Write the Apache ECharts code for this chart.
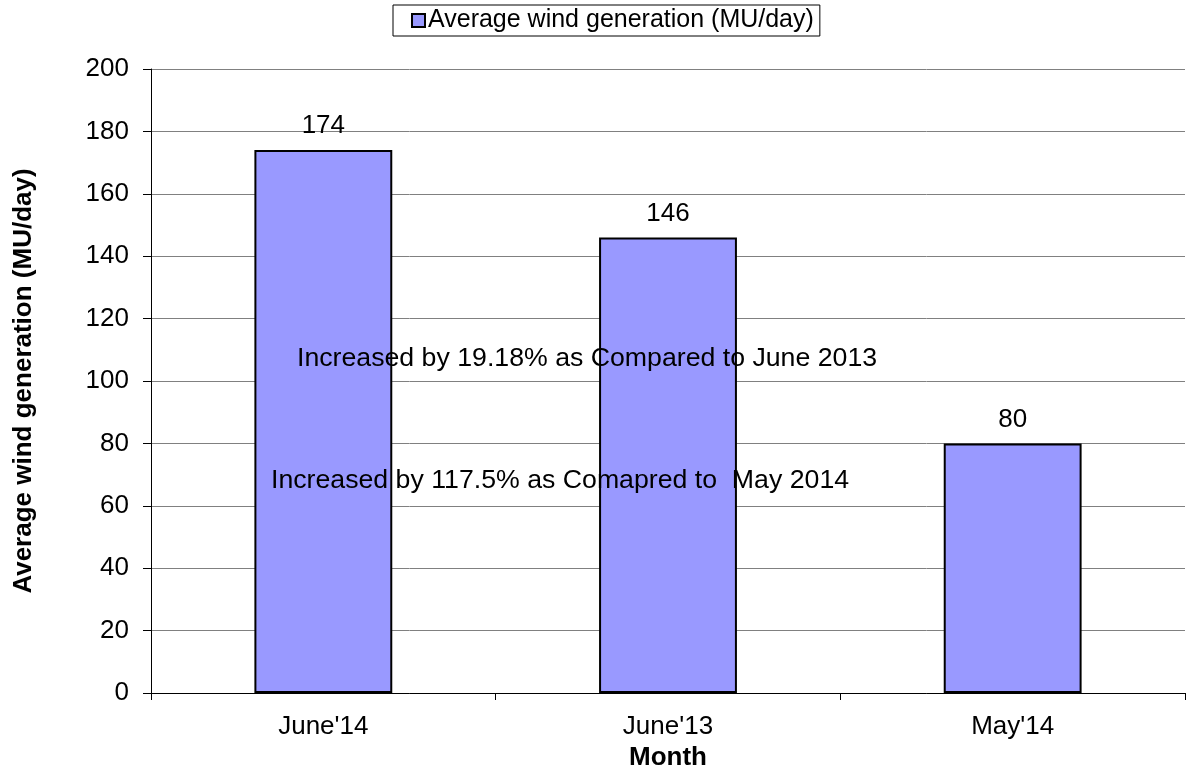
<!DOCTYPE html>
<html>
<head>
<meta charset="utf-8">
<script src="https://cdn.jsdelivr.net/npm/echarts@6/dist/echarts.min.js"></script>
<style>
    html, body { margin: 0; padding: 0; background: #fff; }
    #chart { width: 1188px; height: 771px; }
</style>
</head>
<body>
<div id="chart"></div>
<script>
    // data
    const months = ["June'14", "June'13", "May'14"];
    const windGen = [174, 146, 80];
    const seriesName = 'Average wind generation (MU/day)';
    const notes = [
        'Increased by 19.18% as Compared to June 2013',
        'Increased by 117.5% as Comapred to  May 2014'
    ];

    const font = 'Liberation Sans, Arial, sans-serif';
    let myChart = echarts.init(document.getElementById('chart'));
    let option = {
        animation: false,
        textStyle: {fontFamily: font},
        grid: {left: 151, right: 3, top: 69, bottom: 78, outerBoundsMode: 'none', containLabel: false},
        legend: {
            data: [seriesName],
            icon: 'rect',
            top: 5,
            left: 393,
            itemWidth: 13,
            itemHeight: 13,
            itemGap: 2,
            padding: [3, 6, 3, 18],
            borderColor: '#000',
            borderWidth: 1,
            borderRadius: 0,
            textStyle: {fontSize: 25, color: '#000', fontFamily: font, padding: [0, 0, 0, -2]},
            itemStyle: {borderColor: '#000', borderWidth: 2}
        },
        xAxis: {
            type: 'category',
            data: months,
            name: 'Month',
            nameLocation: 'middle',
            nameGap: 51,
            nameTextStyle: {fontSize: 26, fontWeight: 'bold', color: '#000', fontFamily: font},
            axisLine: {lineStyle: {color: '#000', width: 1}},
            axisTick: {show: true, length: 7, lineStyle: {color: '#000'}},
            axisLabel: {fontSize: 26, color: '#000', margin: 21, fontFamily: font}
        },
        yAxis: {
            type: 'value',
            min: 0,
            max: 200,
            interval: 20,
            name: 'Average wind generation (MU/day)',
            nameLocation: 'middle',
            nameGap: 114,
            nameTextStyle: {fontSize: 26, fontWeight: 'bold', color: '#000', fontFamily: font},
            axisLine: {show: true, lineStyle: {color: '#000', width: 1}},
            axisTick: {show: true, length: 8, lineStyle: {color: '#000'}},
            axisLabel: {fontSize: 26, color: '#000', margin: 22, fontFamily: font},
            splitLine: {lineStyle: {color: '#808080', width: 1}}
        },
        series: [{
            name: seriesName,
            type: 'bar',
            data: windGen,
            barWidth: '40%',
            itemStyle: {color: '#9999FF', borderColor: '#000', borderWidth: 2},
            label: {
                show: true,
                position: 'top',
                distance: 11,
                fontSize: 26,
                color: '#000',
                fontFamily: font
            }
        }],
        graphic: [
            {
                type: 'text',
                x: 297,
                y: 359,
                z: 100,
                style: {text: notes[0], font: '26.7px ' + font, fill: '#000', verticalAlign: 'middle'}
            },
            {
                type: 'text',
                x: 271,
                y: 481,
                z: 100,
                style: {text: notes[1], font: '26.7px ' + font, fill: '#000', verticalAlign: 'middle'}
            }
        ]
    };
    myChart.setOption(option);
</script>
</body>
</html>
